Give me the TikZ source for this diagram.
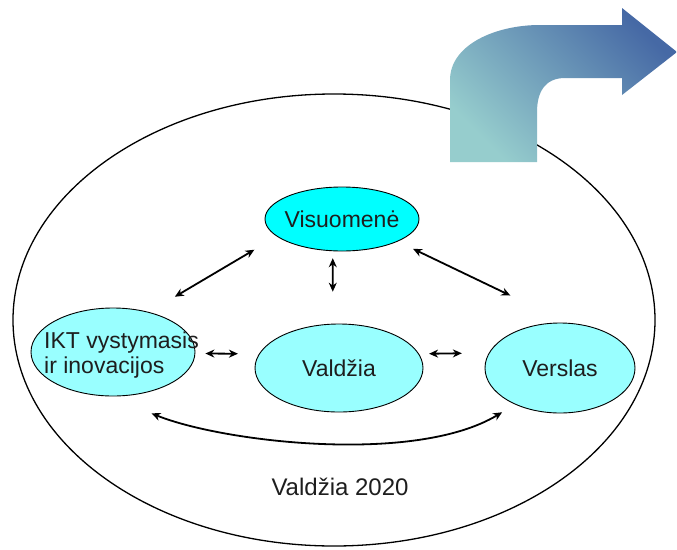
\documentclass[tikz,border=0pt]{standalone}
\usepackage{fontspec}
\setmainfont{Liberation Sans}
\usetikzlibrary{shapes.geometric,arrows.meta}
\definecolor{vcyan}{RGB}{0,255,255}
\definecolor{pcyan}{RGB}{153,255,255}
\definecolor{arrlight}{RGB}{150,205,205}
\definecolor{arrdark}{RGB}{70,105,165}
\definecolor{txt}{RGB}{30,30,30}
\begin{document}
\begin{tikzpicture}[x=1pt,y=-1pt,
  ov/.style={ellipse, draw=black, line width=0.9pt, fill=pcyan, inner sep=0pt},
  lbl/.style={font=\fontsize{23}{25}\selectfont, text=txt, inner sep=0pt},
  biarrow/.style={{Stealth[length=9pt,width=8pt]}-{Stealth[length=9pt,width=8pt]}, line width=1.8pt}]
\useasboundingbox (0,0) rectangle (677,549);
\fill[white] (0,0) rectangle (677,549);
% outer frame
\node[ellipse, draw=black, line width=1.3pt, minimum width=642, minimum height=452, inner sep=0pt] (frame) at (334,320) {};
% bent arrow
\shade[top color=arrdark, bottom color=arrlight, shading angle=-45]
  (450,162) -- (450,80) .. controls (450,45) and (495,25) .. (540,25) -- (622,25) -- (622,8)
  -- (677,52) -- (622,95) -- (622,78) -- (565,78) .. controls (545,78) and (537,92) .. (537,112)
  -- (537,162) -- cycle;
% nodes
\node[ov, fill=vcyan, minimum width=154, minimum height=64, label={[lbl]center:Visuomenė}] (vis) at (342,219) {};
\node[ov, minimum width=164, minimum height=88] (ikt) at (113,352) {};
\node[lbl, align=left, anchor=west] (ikttext) at (44,355) {IKT vystymasis\\ir inovacijos};
\node[ov, minimum width=168, minimum height=88, label={[lbl]center:Valdžia}] (val) at (339,368) {};
\node[ov, minimum width=150, minimum height=90, label={[lbl]center:Verslas}] (vers) at (560,368) {};
% connectors
\draw[biarrow, shorten <=26pt, shorten >=30pt] (vis.195) -- (ikt.48);
\draw[biarrow, shorten <=7pt, shorten >=32pt] (vis.254) -- (val.98);
\draw[biarrow, shorten <=17pt, shorten >=63pt] (vis.-22.5) -- (vers.81.4);
\draw[biarrow, shorten <=10pt, shorten >=21pt] (ikt.-1.4) -- (val.170);
\draw[biarrow, shorten <=10pt, shorten >=27pt] (val.10.75) -- (vers.168);
\draw[biarrow, shorten <=45pt, shorten >=15pt] (ikt.266) .. controls (222,442) and (415,465) .. (vers.219.8);
% caption
\node[lbl, font=\fontsize{24}{26}\selectfont] (caption) at (340,487) {Valdžia 2020};
\end{tikzpicture}
\end{document}
